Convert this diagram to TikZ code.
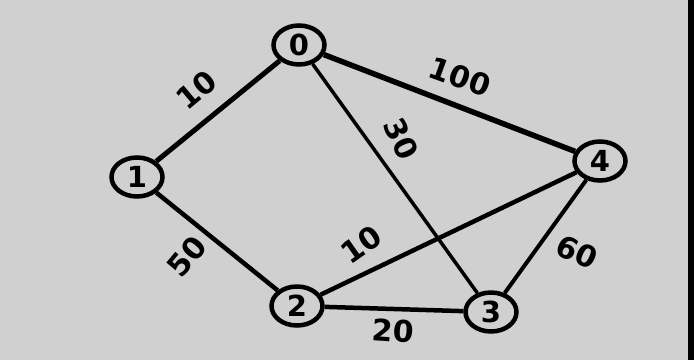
\documentclass[tikz,border=0pt]{standalone}
\usepackage{fontspec}
\setmainfont{DejaVu Sans}
\usetikzlibrary{shapes.geometric}
\definecolor{bg}{RGB}{208,208,208}
\begin{document}
\begin{tikzpicture}[x=1pt,y=-1pt,
  vertex/.style={draw, ellipse, line width=4.5pt, minimum width=51pt, minimum height=39pt, inner sep=0pt,
    font=\fontsize{29}{29}\selectfont\bfseries},
  edge/.style={line width=4.5pt},
  wlabel/.style={font=\fontsize{30}{30}\selectfont\bfseries, inner sep=0pt}]
\fill[bg] (0,0) rectangle (694,360);
\fill[black] (688,0) rectangle (694,360);
\useasboundingbox (0,0) rectangle (694,360);
\node[vertex] (n0) at (299,45) {0};
\node[vertex] (n1) at (137,177) {1};
\node[vertex] (n2) at (297,306) {2};
\node[vertex] (n3) at (491,312) {3};
\node[vertex] (n4) at (600,161) {4};
\draw[edge, line width=5pt] (n0) -- (n1);
\draw[edge, line width=5.5pt] (n0) -- (n4);
\draw[edge, line width=3.5pt] (n0) -- (n3);
\draw[edge] (n1) -- (n2);
\draw[edge] (n2) -- (n4);
\draw[edge] (n2) -- (n3);
\draw[edge, line width=4pt] (n3) -- (n4);
\node[wlabel, rotate=40] (l01) at (196,90) {10};
\node[wlabel, rotate=-20] (l04) at (460,77) {100};
\node[wlabel, rotate=-65] (l03) at (401,139) {30};
\node[wlabel, rotate=50] (l12) at (187,256) {50};
\node[wlabel, rotate=35] (l24) at (361,245) {10};
\node[wlabel, rotate=-25] (l34) at (577,252) {60};
\node[wlabel, rotate=-4] (l23) at (393,331) {20};
\end{tikzpicture}
\end{document}
